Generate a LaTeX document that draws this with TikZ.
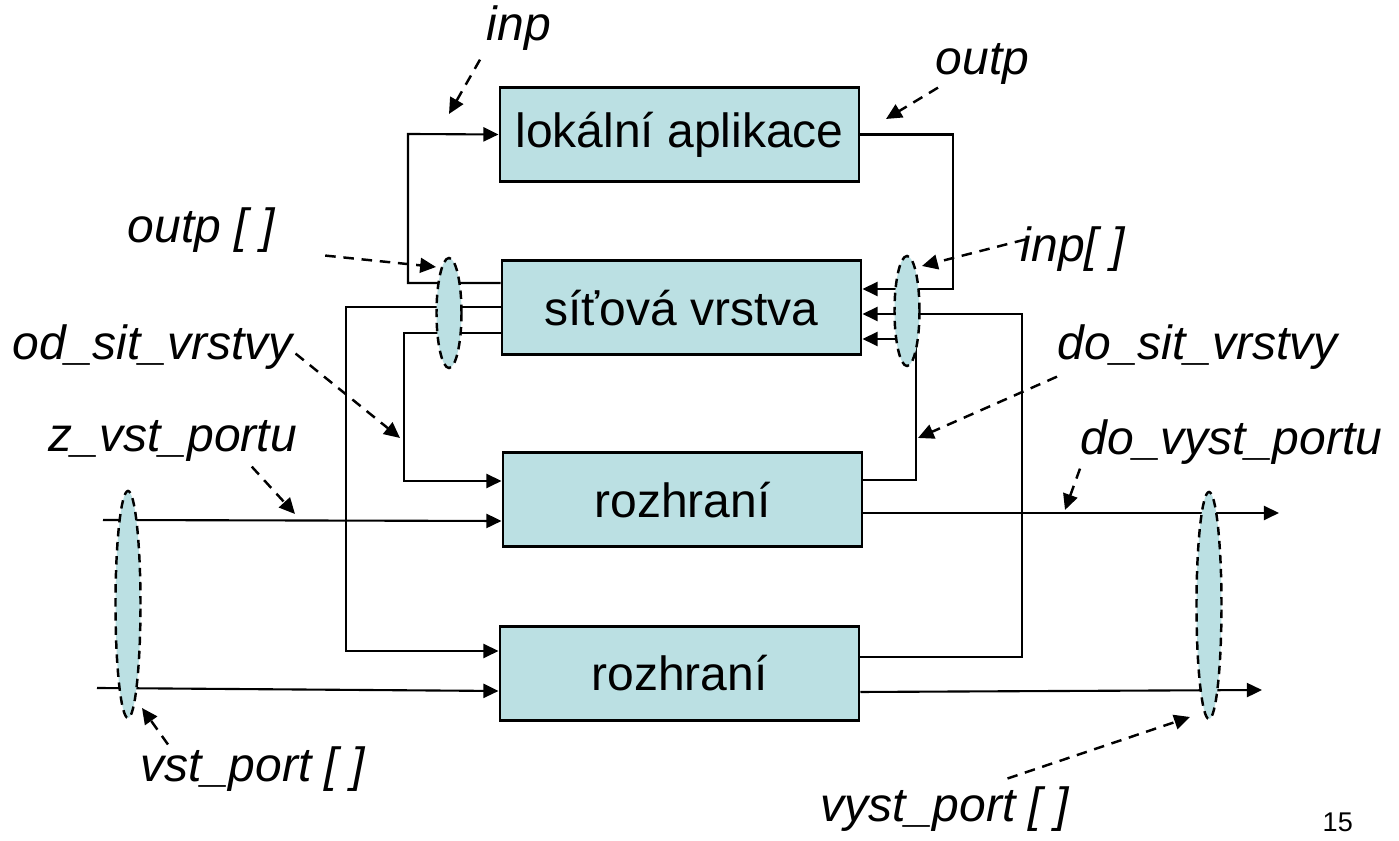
\documentclass[tikz,border=0pt]{standalone}
\usepackage{fontspec}
\setmainfont{Liberation Sans}
\usetikzlibrary{shapes,arrows.meta,calc}
\definecolor{blokfill}{RGB}{187,224,227}

\tikzset{
  blok/.style={rectangle, draw, line width=0.85pt, fill=blokfill, minimum width=3.59cm, minimum height=0.94cm, inner sep=0pt, font=\fontsize{13.66}{16}\selectfont},
  skup/.style={ellipse, draw, fill=blokfill, line width=0.7pt, dash pattern=on 2.4pt off 1.6pt, minimum width=0.25cm, inner sep=0pt},
  popis/.style={inner sep=0pt, font=\fontsize{13.66}{16}\selectfont\itshape},
  spoj/.style={line width=0.6pt, -{Triangle[length=4.3pt,width=4pt]}},
  ukaz/.style={line width=0.7pt, dash pattern=on 3pt off 2.2pt, -{Triangle[length=4.5pt,width=4.2pt]}}
}

\begin{document}
\begin{tikzpicture}
\useasboundingbox (0,0) rectangle (13.99,-8.41);

% bloky
\node[blok] (lok) at (6.795,-1.345) {lokální aplikace};
\node[blok] (sit) at (6.815,-3.08) {síťová vrstva};
\node[blok] (roz1) at (6.825,-5.00) {rozhraní};
\node[blok] (roz2) at (6.795,-6.735) {rozhraní};

% spoje
\draw[spoj] (sit.west |- 0,-2.83) -| (4.08,-1.34) -- (lok.west);
\draw[spoj] (lok.east) -| (9.53,-2.89) -- (sit.east |- 0,-2.89);
\draw[spoj] (sit.west |- 0,-3.07) -| (3.46,-6.51) -- (roz2.west |- 0,-6.51);
\draw[spoj] (sit.west |- 0,-3.33) -| (4.04,-4.81) -- (roz1.west |- 0,-4.81);
\draw[spoj] (roz1.east |- 0,-4.80) -| (9.16,-3.39) -- (sit.east |- 0,-3.39);
\draw[spoj] (roz2.east |- 0,-6.57) -| (10.22,-3.14) -- (sit.east |- 0,-3.14);

\coordinate (vst1) at (1.03,-5.20);
\coordinate (vst2) at (0.97,-6.88);
\coordinate (vyst1) at (12.79,-5.13);
\coordinate (vyst2) at (12.62,-6.90);
\draw[spoj] (vst1) -- (roz1.west |- 0,-5.21);
\draw[spoj] (vst2) -- (roz2.west |- 0,-6.91);
\draw[spoj] (roz1.east |- 0,-5.13) -- (vyst1);
\draw[spoj] (roz2.east |- 0,-6.92) -- (vyst2);

% skupiny portu
\node[skup, minimum height=1.1cm] (outpS) at (4.49,-3.13) {};
\node[skup, minimum height=1.1cm] (inpS) at (9.07,-3.11) {};
\node[skup, minimum height=2.27cm] (vstS) at (1.28,-6.045) {};
\node[skup, minimum height=2.27cm] (vystS) at (12.09,-6.055) {};

% popisy
\node[popis, anchor=base west] (inpL) at (4.86,-0.41) {inp};
\node[popis, anchor=base west] (outpL) at (9.35,-0.75) {outp};
\node[popis, anchor=base west] (outpPL) at (1.27,-2.43) {outp [ ]};
\node[popis, anchor=base west] (inpPL) at (10.20,-2.62) {inp[ ]};
\node[popis, anchor=base west] (odL) at (0.12,-3.60) {od\_sit\_vrstvy};
\node[popis, anchor=base west] (zL) at (0.48,-4.52) {z\_vst\_portu};
\node[popis, anchor=base west] (doL) at (10.57,-3.60) {do\_sit\_vrstvy};
\node[popis, anchor=base west] (dovL) at (10.80,-4.55) {do\_vyst\_portu};
\node[popis, anchor=base west] (vstL) at (1.40,-7.82) {vst\_port [ ]};
\node[popis, anchor=base west] (vystL) at (8.20,-8.22) {vyst\_port [ ]};
\node[inner sep=0pt, anchor=base west, font=\fontsize{7.7}{9}\selectfont] (cislo) at (13.22,-8.32) {15};

% ukazatele
\coordinate (inpT) at (4.49,-1.14);
\coordinate (outpT) at (8.86,-1.19);
\coordinate (outpPT) at (4.36,-2.67);
\coordinate (inpPT) at (9.22,-2.66);
\coordinate (odT) at (4.00,-4.38);
\coordinate (zT) at (2.95,-5.14);
\coordinate (doT) at (9.18,-4.38);
\coordinate (dovT) at (10.65,-5.10);
\coordinate (vstT) at (1.42,-7.08);
\coordinate (vystT) at (11.90,-7.17);
\draw[ukaz] ([shift={(-0.06,-0.08)}]inpL.south west) -- (inpT);
\draw[ukaz] ([shift={(0.03,-0.02)}]outpL.south west) -- (outpT);
\draw[ukaz] ([shift={(0.5,-0.25)}]outpPL.east) -- (outpPT);
\draw[ukaz] ([shift={(0.05,0.1)}]inpPL.west) -- (inpPT);
\draw[ukaz] ([shift={(0.02,-0.06)}]odL.east) -- (odT);
\draw[ukaz] ([shift={(0.79,-0.04)}]zL.south) -- (zT);
\draw[ukaz] ([shift={(0,-0.06)}]doL.south west) -- (doT);
\draw[ukaz] ([shift={(0,-0.03)}]dovL.south west) -- (dovT);
\draw[ukaz] ([shift={(0.28,0.02)}]vstL.north west) -- (vstT);
\draw[ukaz] ([shift={(-0.62,0.08)}]vystL.north east) -- (vystT);
\end{tikzpicture}
\end{document}
